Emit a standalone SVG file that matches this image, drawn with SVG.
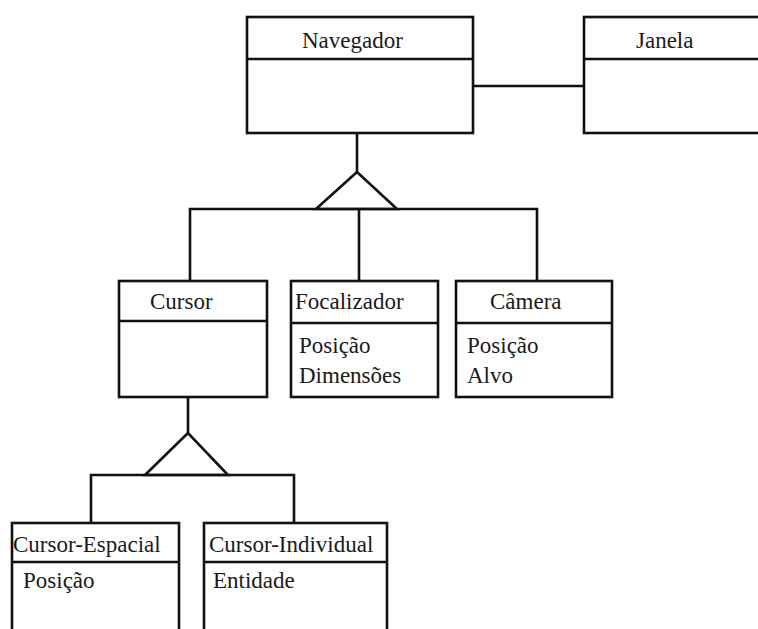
<svg xmlns="http://www.w3.org/2000/svg" width="758" height="629" viewBox="0 0 758 629">
<style>
.box{fill:none;stroke:#111;stroke-width:2.6}
.ln{fill:none;stroke:#111;stroke-width:2.6}
</style>
<rect width="758" height="629" fill="#fff"/>
<g id="connectors">
<line class="ln" x1="473" y1="86" x2="584" y2="86"/>
<polyline class="ln" points="357,133 357,172"/>
<polygon class="ln" points="357,172 316,209 397,209"/>
<polyline class="ln" points="190,281 190,209 537,209 537,281"/>
<line class="ln" x1="359" y1="209" x2="359" y2="281"/>
<polyline class="ln" points="188,397 188,433"/>
<polygon class="ln" points="188,433 145,475 228,475"/>
<polyline class="ln" points="91,523 91,475 294,475 294,523"/>
</g>
<g font-family="Liberation Serif, serif" font-size="23" fill="#1a1a1a">
<g id="navegador">
<rect class="box" x="247" y="17" width="226" height="116"/>
<line class="ln" x1="247" y1="59" x2="473" y2="59"/>
<text x="302" y="48">Navegador</text>
</g>
<g id="janela">
<rect class="box" x="584" y="17" width="190" height="116"/>
<line class="ln" x1="584" y1="59" x2="774" y2="59"/>
<text x="636" y="48">Janela</text>
</g>
<g id="cursor">
<rect class="box" x="119" y="281" width="148" height="116"/>
<line class="ln" x1="119" y1="321" x2="267" y2="321"/>
<text x="150" y="309">Cursor</text>
</g>
<g id="focalizador">
<rect class="box" x="291" y="281" width="147" height="116"/>
<line class="ln" x1="291" y1="323" x2="438" y2="323"/>
<text x="295" y="309">Focalizador</text>
<text x="299" y="353">Posição</text>
<text x="299" y="383">Dimensões</text>
</g>
<g id="camera">
<rect class="box" x="456" y="281" width="156" height="116"/>
<line class="ln" x1="456" y1="323" x2="612" y2="323"/>
<text x="490" y="309">Câmera</text>
<text x="467" y="353">Posição</text>
<text x="467" y="383">Alvo</text>
</g>
<g id="cursor-espacial">
<rect class="box" x="12" y="523" width="167" height="130"/>
<line class="ln" x1="12" y1="562" x2="179" y2="562"/>
<text x="13" y="552">Cursor-Espacial</text>
<text x="23" y="588">Posição</text>
</g>
<g id="cursor-individual">
<rect class="box" x="204" y="523" width="183" height="130"/>
<line class="ln" x1="204" y1="562" x2="387" y2="562"/>
<text x="209" y="552">Cursor-Individual</text>
<text x="213" y="588">Entidade</text>
</g>
</g>
</svg>
